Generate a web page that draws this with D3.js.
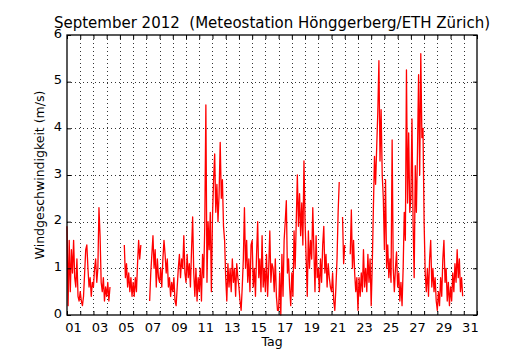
<!DOCTYPE html>
<html><head><meta charset="utf-8">
<script src="https://cdn.jsdelivr.net/npm/d3@7"></script>
<style>
body{margin:0;background:#fff}
svg{display:block}
text{font-family:"DejaVu Sans",sans-serif;fill:#000}
</style>
</head><body>
<svg id="chart" width="530" height="350"></svg>
<script>
const title = "September 2012  (Meteostation Hönggerberg/ETH Zürich)";
const xLabel = "Tag";
const yLabel = "Windgeschwindigkeit (m/s)";
const dayTickLabels = ["01","03","05","07","09","11","13","15","17","19","21","23","25","27","29","31"];
const yTicks = [0,1,2,3,4,5,6];
const firstDay = 1;
const samplesPerDay = 12; // 2-hourly readings
const windSpeed = [
  /* 01 */ 1.9,0.2,1.6,0.5,1.4,0.9,1.6,0.8,0.6,1.2,0.4,0.3,
  /* 02 */ 0.5,0.3,0.2,0.4,0.9,1.4,1.5,1.0,0.6,0.8,0.4,0.7,
  /* 03 */ 0.6,1.0,1.2,0.7,1.0,2.3,1.7,0.7,0.5,0.8,0.3,0.6,
  /* 04 */ 0.4,0.7,0.3,0.6,null,null,null,null,null,null,null,null,
  /* 05 */ null,null,null,null,1.5,0.8,1.1,0.6,0.9,0.5,0.8,0.4,
  /* 06 */ 0.7,0.4,0.8,0.5,1.1,1.6,1.2,1.5,null,null,null,null,
  /* 07 */ null,null,null,0.3,0.9,1.3,1.7,1.0,1.4,0.6,1.2,0.8,
  /* 08 */ 0.7,1.0,0.6,1.2,1.6,1.3,0.9,1.2,0.6,0.8,0.4,0.7,
  /* 09 */ 0.5,0.8,0.3,0.2,0.6,1.0,1.3,0.8,1.2,1.0,1.7,0.9,
  /* 10 */ 0.7,1.3,0.8,1.1,0.6,1.4,2.1,0.9,0.4,1.0,0.3,0.8,
  /* 11 */ 0.5,1.0,0.3,1.3,0.8,1.9,4.5,0.7,2.0,1.4,2.2,0.5,
  /* 12 */ 2.1,2.9,3.45,2.2,2.8,2.0,2.6,3.7,2.5,2.9,1.9,1.6,
  /* 13 */ 0.8,0.3,1.1,0.6,1.0,0.5,1.2,0.7,1.0,0.4,1.1,0.8,
  /* 14 */ 0.6,0.3,0.1,0.6,1.2,2.3,1.0,1.6,0.7,1.2,0.5,1.5,
  /* 15 */ 1.6,0.6,1.0,0.4,1.3,2.0,0.8,1.2,0.5,1.7,0.6,1.0,
  /* 16 */ 0.5,1.3,0.4,1.0,1.8,0.7,1.1,1.0,0.5,1.2,0.4,0.1,
  /* 17 */ 0.1,0.9,0.0,1.3,0.4,1.6,2.0,2.45,0.9,1.2,0.6,0.2,
  /* 18 */ 0.9,0.4,1.8,1.0,2.0,3.0,1.9,2.6,1.7,2.4,1.5,3.3,
  /* 19 */ 2.0,1.2,0.4,1.8,1.0,1.6,1.2,2.3,1.4,0.5,1.7,0.8,
  /* 20 */ 1.0,0.5,1.2,0.7,1.5,1.9,0.9,1.3,0.6,1.1,0.8,0.6,
  /* 21 */ 0.5,0.9,0.3,0.1,0.6,1.2,2.2,2.85,null,null,2.1,1.1,
  /* 22 */ 1.5,null,null,null,null,1.3,2.25,1.0,1.6,0.9,0.5,0.8,
  /* 23 */ 0.1,0.8,0.4,0.9,0.5,1.4,0.6,1.0,0.5,1.3,0.7,1.2,
  /* 24 */ 0.2,1.1,2.3,3.4,2.8,3.6,4.35,5.45,3.3,4.4,3.0,2.5,
  /* 25 */ 1.4,2.9,1.0,1.5,0.8,1.2,0.7,3.75,1.0,0.5,1.0,1.35,
  /* 26 */ 0.6,0.9,0.3,0.7,0.2,1.0,2.2,1.6,5.25,2.4,3.9,2.2,
  /* 27 */ 2.5,4.2,2.0,0.8,3.2,2.2,3.5,5.15,3.0,5.6,3.8,4.0,
  /* 28 */ 2.0,0.9,0.5,1.0,0.4,1.2,1.6,0.6,1.0,0.5,0.8,0.3,
  /* 29 */ 0.1,0.5,0.2,0.8,0.4,1.2,1.6,0.7,1.0,0.3,0.7,0.2,
  /* 30 */ 0.6,0.3,0.9,0.5,1.1,0.7,1.4,0.8,1.2,0.5,0.8,0.4
];

const svg = d3.select("#chart");
const L = 67, R = 477, T = 35, B = 315;
const x = d3.scaleLinear().domain([1, 32]).range([L, R]);
const y = d3.scaleLinear().domain([0, 6]).range([B, T]);
const dayTicks = d3.range(1, 33);

const series = windSpeed.map((v, i) => ({t: firstDay + i / samplesPerDay, v}));

// grid
const grid = svg.append("g").attr("stroke", "#000").attr("stroke-width", 0.8)
  .attr("stroke-dasharray", "1,3").attr("fill", "none");
dayTicks.slice(1, -1).forEach(d => {
  grid.append("line").attr("x1", Math.round(x(d)) + 0.5).attr("x2", Math.round(x(d)) + 0.5)
    .attr("y1", T).attr("y2", B);
});
yTicks.slice(1, -1).forEach(v => {
  grid.append("line").attr("x1", L).attr("x2", R)
    .attr("y1", Math.round(y(v)) + 0.5).attr("y2", Math.round(y(v)) + 0.5);
});

// data line
const line = d3.line().defined(d => d.v != null).x(d => x(d.t)).y(d => y(d.v));
svg.append("path").datum(series).attr("d", line)
  .attr("fill", "none").attr("stroke", "#ff0000").attr("stroke-width", 1.3)
  .attr("stroke-linejoin", "round");

// axes with inward ticks
const xb = d3.axisBottom(x).tickValues(dayTicks).tickSize(-4).tickFormat("");
const xt = d3.axisTop(x).tickValues(dayTicks).tickSize(-4).tickFormat("");
const yl = d3.axisLeft(y).tickValues(yTicks).tickSize(-4).tickFormat("");
const yr = d3.axisRight(y).tickValues(yTicks).tickSize(-4).tickFormat("");
[[xb, `translate(0,${B})`], [xt, `translate(0,${T})`], [yl, `translate(${L},0)`], [yr, `translate(${R},0)`]]
  .forEach(([ax, tr]) => {
    const g = svg.append("g").attr("transform", tr).call(ax);
    g.select(".domain").remove();
    g.selectAll("line").attr("stroke", "#000").attr("stroke-width", 1);
  });

// frame
svg.append("rect").attr("x", L).attr("y", T).attr("width", R - L).attr("height", B - T)
  .attr("fill", "none").attr("stroke", "#000").attr("stroke-width", 1.3);

// x tick labels (centered in the day)
svg.append("g").selectAll("text").data(dayTickLabels).join("text")
  .attr("x", d => x(+d + 0.5)).attr("y", B + 17)
  .attr("text-anchor", "middle").attr("font-size", 13).text(d => d);

// y tick labels
svg.append("g").selectAll("text").data(yTicks).join("text")
  .attr("x", L - 5).attr("y", d => y(d) + 2.5)
  .attr("text-anchor", "end").attr("font-size", 13).text(d => d);

// titles
svg.append("text").attr("x", (L + R) / 2).attr("y", 28).attr("text-anchor", "middle")
  .attr("font-size", 15).style("white-space", "pre").text(title);
svg.append("text").attr("x", (L + R) / 2).attr("y", 346).attr("text-anchor", "middle")
  .attr("font-size", 12.5).text(xLabel);
svg.append("text").attr("transform", `translate(44,${(T + B) / 2}) rotate(-90)`)
  .attr("text-anchor", "middle").attr("font-size", 12.5).text(yLabel);
</script>
</body></html>
